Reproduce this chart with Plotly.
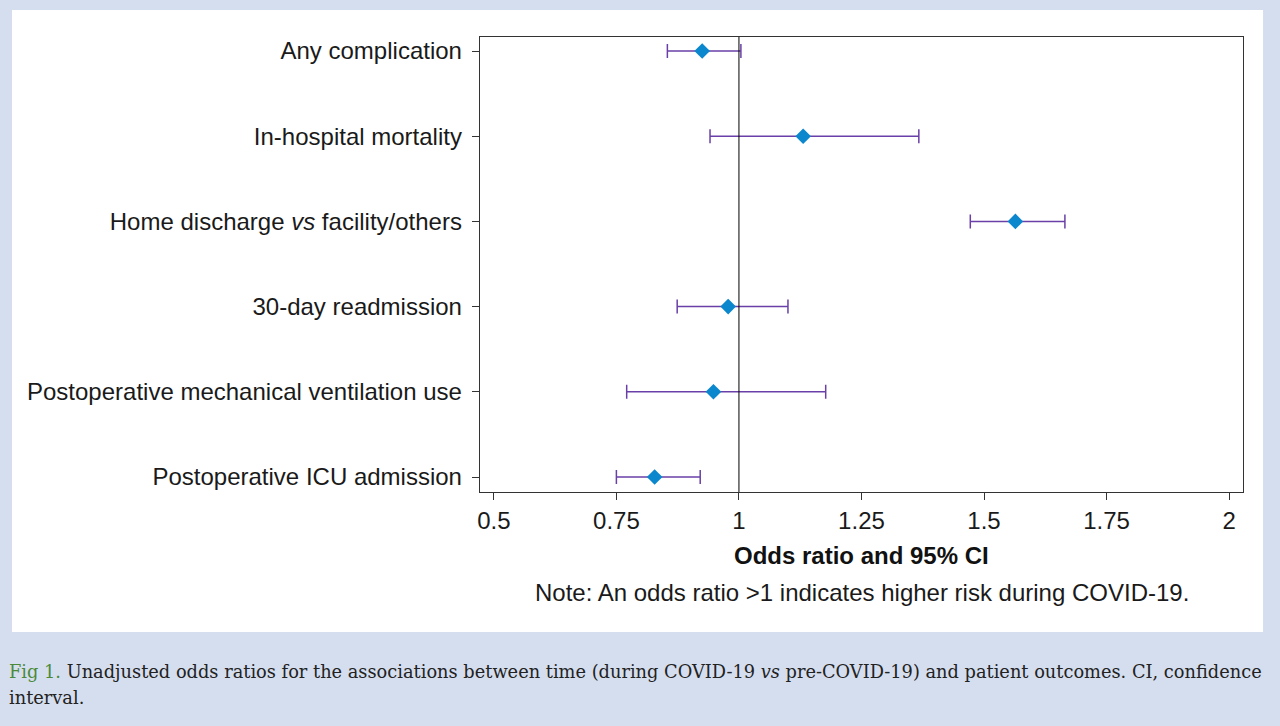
import plotly.graph_objects as go

# ---- data ----
outcomes = [
    "Any complication",
    "In-hospital mortality",
    "Home discharge <i>vs</i> facility/others",
    "30-day readmission",
    "Postoperative mechanical ventilation use",
    "Postoperative ICU admission",
]
odds_ratio = [0.925, 1.131, 1.564, 0.978, 0.948, 0.828]
ci_lower = [0.854, 0.941, 1.472, 0.874, 0.771, 0.750]
ci_upper = [1.004, 1.367, 1.665, 1.100, 1.177, 0.921]
x_ticks = [0.5, 0.75, 1, 1.25, 1.5, 1.75, 2]
x_ticktext = ["0.5", "0.75", "1", "1.25", "1.5", "1.75", "2"]

W, H = 1280, 726
err_plus = [u - o for u, o in zip(ci_upper, odds_ratio)]
err_minus = [o - l for o, l in zip(odds_ratio, ci_lower)]

fig = go.Figure()
fig.add_trace(go.Scatter(
    x=odds_ratio, y=outcomes, mode="markers",
    marker=dict(symbol="diamond", size=12, color="#0a87cd", line=dict(width=0)),
    error_x=dict(type="data", symmetric=False, array=err_plus, arrayminus=err_minus,
                 color="#6a40a8", thickness=1.5, width=7),
    showlegend=False, hoverinfo="skip",
))

fig.add_shape(type="rect", xref="paper", yref="paper",
              x0=9 / W, x1=1263 / W, y0=1 - 632 / H, y1=1 - 10 / H,
              fillcolor="white", line=dict(width=0), layer="below")
fig.add_shape(type="line", xref="x", yref="y domain", x0=1, x1=1, y0=0, y1=1,
              line=dict(color="black", width=1))

axis_font = dict(family="Liberation Sans, Arial, sans-serif", size=24, color="#1a1a1a")

fig.update_layout(
    width=W, height=H, autosize=False,
    margin=dict(l=0, r=0, t=0, b=0),
    paper_bgcolor="#d5deee", plot_bgcolor="white",
    xaxis=dict(domain=[478 / W, 1243 / W], range=[0.4715, 2.0285],
               tickvals=x_ticks, ticktext=x_ticktext, ticks="outside", ticklen=7,
               tickcolor="#333", showline=True, linecolor="#333", linewidth=1.3,
               mirror=True, showgrid=False, zeroline=False, tickfont=axis_font),
    yaxis=dict(domain=[1 - 492 / H, 1 - 37 / H], type="category",
               categoryarray=outcomes, range=[5 + 15 / 85.2, -14 / 85.2],
               ticks="outside", ticklen=7, tickcolor="#333", showline=True,
               linecolor="#333", linewidth=1.3, mirror=True, showgrid=False,
               zeroline=False, tickfont=axis_font, ticklabelstandoff=5),
    font=dict(family="Liberation Sans, Arial, sans-serif", color="#1a1a1a"),
)

fig.add_annotation(text="<b>Odds ratio and 95% CI</b>", xref="paper", yref="paper",
                   x=861 / W, y=1 - 555 / H, xanchor="center", yanchor="middle",
                   showarrow=False, font=dict(family="Liberation Sans, Arial, sans-serif", size=24, color="#111"))
fig.add_annotation(text="Note: An odds ratio >1 indicates higher risk during COVID-19.",
                   xref="paper", yref="paper", x=861 / W, y=1 - 592 / H,
                   xanchor="center", yanchor="middle", showarrow=False,
                   font=dict(family="Liberation Sans, Arial, sans-serif", size=24, color="#1a1a1a"))

cap_font = dict(family="DejaVu Serif, serif", size=17.8, color="#222222")
fig.add_annotation(
    text="<span style='color:#4a8a3a'>Fig 1.</span> Unadjusted odds ratios for the associations between time (during COVID-19 <i>vs</i> pre-COVID-19) and patient outcomes. CI, confidence",
    xref="paper", yref="paper", x=4 / W, y=1 - 671 / H, xanchor="left", yanchor="middle",
    showarrow=False, font=cap_font, align="left")
fig.add_annotation(text="interval.", xref="paper", yref="paper", x=4 / W, y=1 - 697 / H,
                   xanchor="left", yanchor="middle", showarrow=False, font=cap_font, align="left")

fig.write_html("out.html", config={"displayModeBar": False},
               post_script="document.body.style.margin='0';document.body.style.overflow='hidden';")
